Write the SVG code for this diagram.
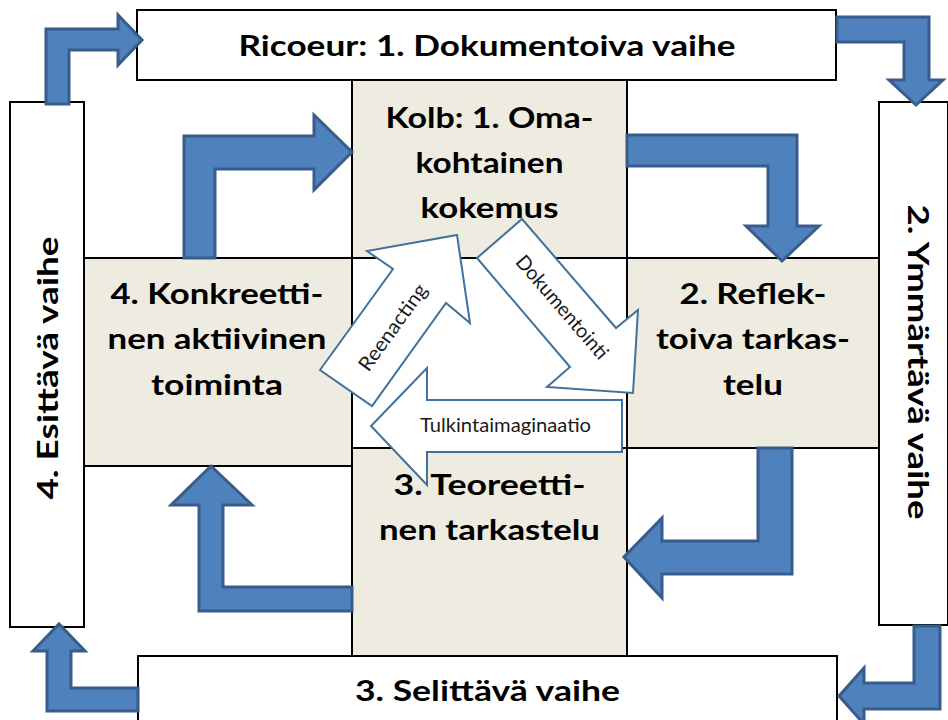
<svg xmlns="http://www.w3.org/2000/svg" width="948" height="720" viewBox="0 0 948 720">
<style>
.cell{fill:#EEECE1;stroke:none}
.grid{stroke:#000;stroke-width:2;fill:none}
.box{fill:#fff;stroke:#000;stroke-width:2}
.big{font-family:Lato,"Liberation Sans",Arial,sans-serif;font-weight:bold;font-size:29px;fill:#000}
.small{font-family:Lato,"Liberation Sans",Arial,sans-serif;font-size:20px;fill:#1a1a1a}
.blue{fill:#4F81BD;stroke:#385D8A;stroke-width:3;stroke-linejoin:miter}
.white{fill:#fff;stroke:#41719C;stroke-width:2;stroke-linejoin:miter}
</style>
<rect width="948" height="720" fill="#fff"/>

<g id="kolb-1">
<rect class="cell" x="352" y="80" width="275" height="178"/>
<text class="big" text-anchor="middle" x="489.5" y="128" textLength="208" lengthAdjust="spacingAndGlyphs">Kolb: 1. Oma-</text>
<text class="big" text-anchor="middle" x="489.5" y="173" textLength="148" lengthAdjust="spacingAndGlyphs">kohtainen</text>
<text class="big" text-anchor="middle" x="489.5" y="218" textLength="138" lengthAdjust="spacingAndGlyphs">kokemus</text>
</g>
<g id="kolb-2">
<rect class="cell" x="627" y="258" width="252" height="190"/>
<text class="big" text-anchor="middle" x="753" y="304" textLength="147" lengthAdjust="spacingAndGlyphs">2. Reflek-</text>
<text class="big" text-anchor="middle" x="753" y="349" textLength="194" lengthAdjust="spacingAndGlyphs">toiva tarkas-</text>
<text class="big" text-anchor="middle" x="753" y="395" textLength="60" lengthAdjust="spacingAndGlyphs">telu</text>
</g>
<g id="kolb-3">
<rect class="cell" x="352" y="448" width="275" height="208"/>
<text class="big" text-anchor="middle" x="489.5" y="495" textLength="192" lengthAdjust="spacingAndGlyphs">3. Teoreetti-</text>
<text class="big" text-anchor="middle" x="489.5" y="540" textLength="221" lengthAdjust="spacingAndGlyphs">nen tarkastelu</text>
</g>
<g id="kolb-4">
<rect class="cell" x="85" y="258" width="267" height="208"/>
<text class="big" text-anchor="middle" x="217" y="304" textLength="213" lengthAdjust="spacingAndGlyphs">4. Konkreetti-</text>
<text class="big" text-anchor="middle" x="217" y="349" textLength="219" lengthAdjust="spacingAndGlyphs">nen aktiivinen</text>
<text class="big" text-anchor="middle" x="217" y="395" textLength="132" lengthAdjust="spacingAndGlyphs">toiminta</text>
</g>

<g id="grid">
<path class="grid" d="M352 80V656M627 80V656M85 258H879M85 466H352M352 448H879"/>
</g>

<g id="ricoeur-1">
<rect class="box" x="137" y="10" width="699" height="70"/>
<text class="big" text-anchor="middle" x="487" y="56" textLength="497" lengthAdjust="spacingAndGlyphs">Ricoeur: 1. Dokumentoiva vaihe</text>
</g>
<g id="ricoeur-2">
<rect class="box" x="879" y="102" width="69" height="523"/>
<text class="big" text-anchor="middle" transform="translate(908,362) rotate(90)" textLength="315" lengthAdjust="spacingAndGlyphs">2. Ymmärtävä vaihe</text>
</g>
<g id="ricoeur-3">
<rect class="box" x="138" y="656" width="699" height="66"/>
<text class="big" text-anchor="middle" x="487.5" y="701" textLength="265" lengthAdjust="spacingAndGlyphs">3. Selittävä vaihe</text>
</g>
<g id="ricoeur-4">
<rect class="box" x="10" y="102" width="74" height="525"/>
<text class="big" text-anchor="middle" transform="translate(58,368) rotate(-90)" textLength="263" lengthAdjust="spacingAndGlyphs">4. Esittävä vaihe</text>
</g>

<g id="connectors">
<polygon class="blue" points="46,104 46,29 118,29 118,15 142,40 118,65 118,50 69,50 69,104"/>
<polygon class="blue" points="837,17 929,17 929,80 943,80 916,105 889,80 904,80 904,42 837,42"/>
<polygon class="blue" points="914,626 940,626 940,709 864,709 864,724 839,696 864,668 864,683 914,683"/>
<polygon class="blue" points="138,688 138,711 47,711 47,651 33,651 59,624 85,651 71,651 71,688"/>
<polygon class="blue" points="184,258 184,136 314,136 314,115 352,152 314,190 314,169 215,169 215,258"/>
<polygon class="blue" points="627,135 797,135 797,226 819,226 782,261 746,226 768,226 768,166 627,166"/>
<polygon class="blue" points="758,448 792,448 792,574 662,574 662,598 624,557 662,518 662,541 758,541"/>
<polygon class="blue" points="352,587 352,611 199,611 199,505 171,505 211,466 252,505 223,505 223,587"/>

<g id="reenacting">
<polygon class="white" points="320,370 393,269 367,251 457,235 470,323 446,303 372,406"/>
<text class="small" text-anchor="middle" transform="translate(391,326) rotate(-54.2)" y="9" textLength="102" lengthAdjust="spacingAndGlyphs">Reenacting</text>
</g>
<g id="dokumentointi">
<polygon class="white" points="477,258 522,219 616,328 638,310 633,393 547,387 570,367"/>
<text class="small" text-anchor="middle" transform="translate(560,309) rotate(49.2)" y="4" textLength="130" lengthAdjust="spacingAndGlyphs">Dokumentointi</text>
</g>
<g id="tulkinta">
<polygon class="white" points="622,400 427,400 427,368 371,426 427,485 427,452 622,452"/>
<text class="small" text-anchor="middle" x="505.5" y="432" textLength="171" lengthAdjust="spacingAndGlyphs">Tulkintaimaginaatio</text>
</g>
</g>
</svg>
